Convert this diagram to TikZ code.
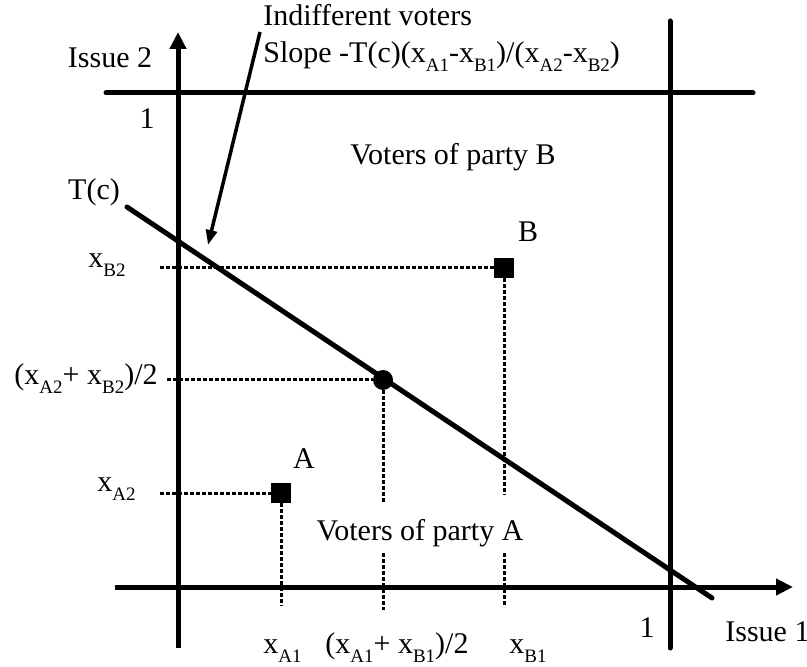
\documentclass[tikz,border=0pt]{standalone}
\usepackage{fontspec}
\setmainfont{Liberation Serif}
\usetikzlibrary{arrows.meta}
\newcommand{\sbs}[1]{\raisebox{-4.5pt}{\fontsize{9.5}{11}\selectfont #1}}
\begin{document}
\begin{tikzpicture}[x=0.5pt,y=-0.5pt, font=\fontsize{15}{18}\selectfont,
  axis/.style={line width=2.5pt, line cap=round},
  axisarrow/.style={line width=2.5pt, -{Triangle[length=8.5pt,width=8pt]}},
  guide/.style={line width=1.5pt, dash pattern=on 2pt off 1pt},
  party/.style={rectangle, fill=black, minimum size=10pt, inner sep=0pt},
  midpt/.style={circle, fill=black, minimum size=10pt, inner sep=0pt},
  pointer/.style={line width=1.75pt, -{Triangle[length=7.5pt,width=5.5pt]}},
  lbl/.style={inner sep=0pt}]
\useasboundingbox (0,0) rectangle (807,667);
% axes and boundaries
\coordinate (vaxB) at (178,648);
\coordinate (vaxT) at (178,32);
\coordinate (haxL) at (115,587);
\coordinate (haxR) at (793,587);
\coordinate (topL) at (106,93);
\coordinate (topR) at (753,93);
\coordinate (rgtT) at (670,21);
\coordinate (rgtB) at (670,648);
\coordinate (tcS) at (127,207);
\coordinate (tcE) at (712,598);
\draw[axisarrow] (vaxB) -- (vaxT);
\draw[axisarrow] (haxL) -- (haxR);
\draw[axis] (topL) -- (topR);
\draw[axis] (rgtT) -- (rgtB);
\draw[axis] (tcS) -- (tcE);
% points
\node[party] (A) at (281,493) {};
\node[party] (B) at (504,268) {};
\node[midpt] (M) at (383,380) {};
% guides
\coordinate (gB2) at (160,268);
\coordinate (gM2) at (167,380);
\coordinate (gA2) at (160,493);
\coordinate (gA1) at (281,606);
\coordinate (gM1a) at (383,504);
\coordinate (gM1b) at (383,553);
\coordinate (gM1c) at (383,610);
\coordinate (gB1a) at (504,495);
\coordinate (gB1b) at (504,553);
\coordinate (gB1c) at (504,607);
\draw[guide] (gB2) -- (B.west);
\draw[guide] (gM2) -- (M.west);
\draw[guide] (gA2) -- (A.west);
\draw[guide] (A.south) -- (gA1);
\draw[guide] (M.south) -- (gM1a);
\draw[guide] (gM1b) -- (gM1c);
\draw[guide] (B.south) -- (gB1a);
\draw[guide] (gB1b) -- (gB1c);
% pointer
\coordinate (ptrS) at (260,32);
\coordinate (ptrE) at (208,245);
\draw[pointer] (ptrS) -- (ptrE);
% labels
\node[lbl, anchor=base] (is2) at (110,68) {Issue 2};
\node[lbl, anchor=base] (one2) at (147,129) {1};
\node[lbl, anchor=base] (tc) at (94,200) {T(c)};
\node[lbl, anchor=base west] (ind) at (263,26) {Indifferent voters};
\node[lbl, anchor=base west] (slope) at (263,63) {Slope -T(c)(x\sbs{A1}-x\sbs{B1})/(x\sbs{A2}-x\sbs{B2})};
\node[lbl, anchor=base] (vB) at (453,165) {Voters of party B};
\node[lbl, anchor=base] (lB) at (528,242) {B};
\node[lbl, anchor=base] (lA) at (304,468) {A};
\node[lbl, anchor=base] (vA) at (420,540) {Voters of party A};
\node[lbl, anchor=base west] (xb2) at (88,268) {x\sbs{B2}};
\node[lbl, anchor=base east] (xm2) at (158,385) {(x\sbs{A2}+ x\sbs{B2})/2};
\node[lbl, anchor=base west] (xa2) at (97,491) {x\sbs{A2}};
\node[lbl, anchor=base west] (xa1) at (263,653) {x\sbs{A1}};
\node[lbl, anchor=base west] (xm1) at (325,653) {(x\sbs{A1}+ x\sbs{B1})/2};
\node[lbl, anchor=base west] (xb1) at (509,653) {x\sbs{B1}};
\node[lbl, anchor=base] (one1) at (647,637) {1};
\node[lbl, anchor=base west] (is1) at (725,641) {Issue 1};
\end{tikzpicture}
\end{document}
